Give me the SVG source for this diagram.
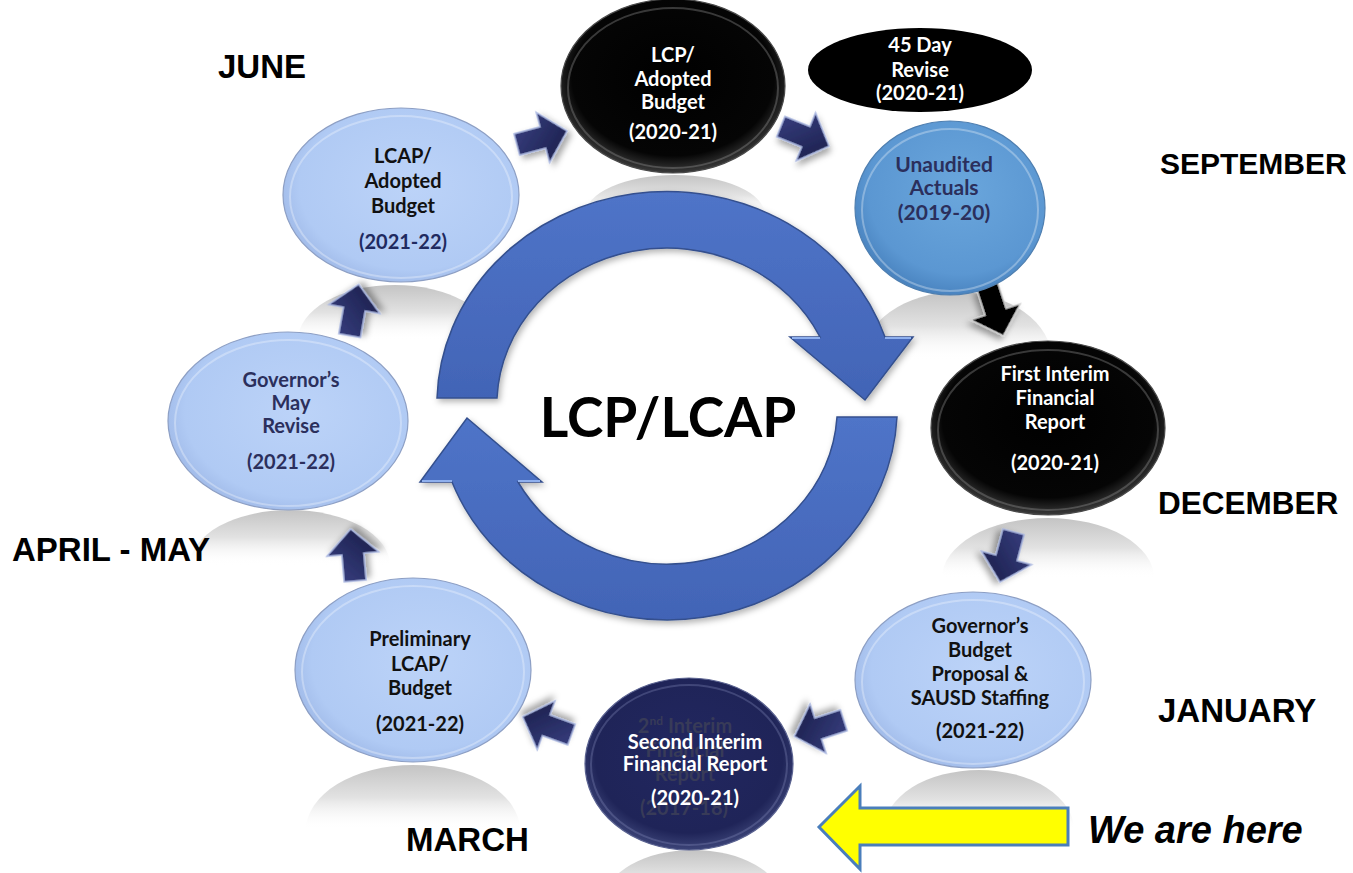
<svg xmlns="http://www.w3.org/2000/svg" width="1353" height="873" viewBox="0 0 1353 873">
  <defs>
    <style>
      .lbl { font-family: Lato, "Open Sans", "Liberation Sans", sans-serif; font-weight: 700; font-size: 20px; text-anchor: middle; }
      .dark { fill: #111111; }
      .navy { fill: #2b2f5c; }
      .white { fill: #ffffff; }
      .ghost { fill: #383b58; }
      .month { font-family: "Liberation Sans", Arial, sans-serif; font-weight: 700; font-size: 33px; fill: #000000; }
      .title { font-family: Lato, "Open Sans", "Liberation Sans", sans-serif; font-weight: 700; font-size: 55px; fill: #000000; text-anchor: middle; }
      .here { font-family: "Liberation Sans", Arial, sans-serif; font-weight: 700; font-style: italic; font-size: 38px; fill: #000000; }
      .light { fill: url(#lightFill); stroke: #8d9fc4; stroke-width: 1.2; }
      .black { fill: url(#blackFill); stroke: #4a4a4a; stroke-width: 1.2; }
      .rim { fill: none; stroke: #ffffff; stroke-opacity: 0.3; stroke-width: 2; }
      .rimDark { fill: none; stroke: #9a9a9a; stroke-opacity: 0.35; stroke-width: 2; }
      .refl { fill: url(#reflFill); }
      .step { fill: url(#stepFill); stroke: #a9b6e0; stroke-width: 1.4; filter: url(#shadow); }
      .stepBlack { fill: #000000; stroke: #d0d0d0; stroke-width: 1.4; filter: url(#shadow); }
      .ring { fill: url(#ringFill); stroke: #34508e; stroke-width: 1.5; filter: url(#softShadow); }
    </style>
    <radialGradient id="lightFill" cx="55%" cy="45%" r="60%">
      <stop offset="0" stop-color="#bcd3f8"/>
      <stop offset="0.8" stop-color="#b0caf4"/>
      <stop offset="1" stop-color="#9db7e6"/>
    </radialGradient>
    <radialGradient id="blueFill" cx="55%" cy="40%" r="60%">
      <stop offset="0" stop-color="#6aa6dc"/>
      <stop offset="0.8" stop-color="#5b97d2"/>
      <stop offset="1" stop-color="#4a84c0"/>
    </radialGradient>
    <radialGradient id="blackFill" cx="50%" cy="45%" r="55%">
      <stop offset="0" stop-color="#000000"/>
      <stop offset="0.82" stop-color="#050505"/>
      <stop offset="1" stop-color="#3a3a3a"/>
    </radialGradient>
    <radialGradient id="navyFill" cx="50%" cy="45%" r="55%">
      <stop offset="0" stop-color="#222760"/>
      <stop offset="0.82" stop-color="#1f2458"/>
      <stop offset="1" stop-color="#3c4478"/>
    </radialGradient>
    <linearGradient id="reflFill" x1="0" y1="0" x2="0" y2="1">
      <stop offset="0" stop-color="#c4c4c4"/>
      <stop offset="0.5" stop-color="#e2e2e2"/>
      <stop offset="1" stop-color="#ffffff" stop-opacity="0"/>
    </linearGradient>
    <linearGradient id="stepFill" x1="0" y1="0" x2="1" y2="1">
      <stop offset="0" stop-color="#3a4184"/>
      <stop offset="1" stop-color="#171b45"/>
    </linearGradient>
    <linearGradient id="ringFill" x1="0" y1="0" x2="0" y2="1">
      <stop offset="0" stop-color="#4f74c8"/>
      <stop offset="1" stop-color="#4264b6"/>
    </linearGradient>
    <filter id="shadow" x="-40%" y="-40%" width="180%" height="180%">
      <feDropShadow dx="3" dy="4" stdDeviation="3" flood-color="#000000" flood-opacity="0.35"/>
    </filter>
    <filter id="softShadow" x="-10%" y="-10%" width="120%" height="120%">
      <feDropShadow dx="2" dy="3" stdDeviation="3" flood-color="#000000" flood-opacity="0.3"/>
    </filter>
    <!-- block arrow pointing along +x, centred on the origin -->
    <path id="blockArrow" d="M -25,-11 L 2,-11 L 2,-26 L 27,0 L 2,26 L 2,11 L -25,11 Z"/>
  </defs>

  <rect width="1353" height="873" fill="#ffffff"/>

  <!-- floor reflections under the nodes -->
  <g id="reflections">
    <path class="refl" d="M 298,340 A 97 55 0 0 1 492,340 Z"/>
    <path class="refl" d="M 190,565 A 100 55 0 0 1 390,565 Z"/>
    <path class="refl" d="M 306,830 A 107 65 0 0 1 520,830 Z"/>
    <path class="refl" d="M 862,360 A 95 68 0 0 1 1052,360 Z"/>
    <path class="refl" d="M 942,578 A 106 60 0 0 1 1154,578 Z"/>
    <path class="refl" d="M 884,830 A 95 60 0 0 1 1074,830 Z"/>
    <path class="refl" d="M 605,900 A 88 50 0 0 1 781,900 Z"/>
    <path class="refl" d="M 585,215 A 90 40 0 0 1 765,215 Z"/>
  </g>

  <!-- central cycle arrows -->
  <g id="cycle">
    <path class="ring" d="M 437,398 A 230 213 0 0 1 885,337 L 913,337 L 865,400 L 790,337 L 820,337 A 170 157 0 0 0 497,398 Z"/>
    <path class="ring" d="M 897,417 A 230 213 0 0 1 452,482 L 420,482 L 467,418 L 542,482 L 518,482 A 170 157 0 0 0 837,417 Z"/>
    <path d="M 792,338 L 820,338 M 885,338 L 911,338" stroke="#8fb0ee" stroke-width="2" fill="none"/>
    <path d="M 422,481 L 452,481 M 518,481 L 540,481" stroke="#8fb0ee" stroke-width="2" fill="none"/>
    <text class="title" x="668" y="437">LCP/LCAP</text>
  </g>

  <!-- step connectors between the nodes -->
  <g id="connectors">
    <use href="#blockArrow" class="step" transform="translate(541,138) rotate(-15)"/>
    <use href="#blockArrow" class="step" transform="translate(804,136) rotate(22)"/>
    <use href="#blockArrow" class="stepBlack" transform="translate(995,310) rotate(72)"/>
    <use href="#blockArrow" class="step" transform="translate(1007,556) rotate(105)"/>
    <use href="#blockArrow" class="step" transform="translate(820,728) rotate(162)"/>
    <use href="#blockArrow" class="step" transform="translate(548,726) rotate(200)"/>
    <use href="#blockArrow" class="step" transform="translate(353,556) rotate(-95)"/>
    <use href="#blockArrow" class="step" transform="translate(354,311) rotate(-80)"/>
  </g>

  <!-- June: LCAP / Adopted Budget 2021-22 -->
  <g id="node-lcap-adopted">
    <ellipse class="light" cx="401" cy="195" rx="118" ry="87"/>
    <ellipse class="rim" cx="401" cy="197" rx="111" ry="81"/>
    <text class="lbl dark" x="403" y="163">LCAP/</text>
    <text class="lbl dark" x="403" y="188">Adopted</text>
    <text class="lbl dark" x="403" y="213">Budget</text>
    <text class="lbl" x="403" y="249" fill="#1f2a60">(2021-22)</text>
  </g>

  <!-- Governor's May Revise -->
  <g id="node-may-revise">
    <ellipse class="light" cx="288" cy="421" rx="120" ry="89"/>
    <ellipse class="rim" cx="288" cy="423" rx="113" ry="83"/>
    <text class="lbl navy" x="291" y="387">Governor’s</text>
    <text class="lbl navy" x="291" y="410">May</text>
    <text class="lbl navy" x="291" y="433">Revise</text>
    <text class="lbl navy" x="291" y="469">(2021-22)</text>
  </g>

  <!-- Preliminary LCAP / Budget -->
  <g id="node-preliminary">
    <ellipse class="light" cx="413" cy="670" rx="118" ry="92"/>
    <ellipse class="rim" cx="413" cy="672" rx="111" ry="86"/>
    <text class="lbl dark" x="420" y="646">Preliminary</text>
    <text class="lbl dark" x="420" y="671">LCAP/</text>
    <text class="lbl dark" x="420" y="695">Budget</text>
    <text class="lbl dark" x="420" y="731">(2021-22)</text>
  </g>

  <!-- Second Interim Financial Report, with the older label showing through -->
  <g id="node-second-interim">
    <ellipse cx="689" cy="764" rx="104" ry="86" fill="url(#navyFill)" stroke="#5a6290" stroke-width="1.2"/>
    <ellipse cx="689" cy="765" rx="98" ry="80" fill="none" stroke="#8d96c4" stroke-opacity="0.3" stroke-width="2"/>
    <text class="lbl ghost" x="685" y="733">2<tspan font-size="12" dy="-8">nd</tspan><tspan dy="8"> Interim</tspan></text>
    <text class="lbl ghost" x="685" y="757">Financial</text>
    <text class="lbl ghost" x="685" y="781">Report</text>
    <text class="lbl ghost" x="684" y="815">(2017-18)</text>
    <text class="lbl white" x="695" y="749">Second Interim</text>
    <text class="lbl white" x="695" y="771">Financial Report</text>
    <text class="lbl white" x="695" y="805">(2020-21)</text>
  </g>

  <!-- Governor's Budget Proposal & SAUSD Staffing -->
  <g id="node-gov-budget">
    <ellipse class="light" cx="973" cy="680" rx="118" ry="88"/>
    <ellipse class="rim" cx="973" cy="682" rx="111" ry="82"/>
    <text class="lbl dark" x="980" y="633">Governor’s</text>
    <text class="lbl dark" x="980" y="657">Budget</text>
    <text class="lbl dark" x="980" y="681">Proposal &amp;</text>
    <text class="lbl dark" x="980" y="705">SAUSD Staffing</text>
    <text class="lbl dark" x="980" y="738">(2021-22)</text>
  </g>

  <!-- First Interim Financial Report -->
  <g id="node-first-interim">
    <ellipse class="black" cx="1048" cy="428" rx="117" ry="87"/>
    <ellipse class="rimDark" cx="1048" cy="430" rx="110" ry="80"/>
    <text class="lbl white" x="1055" y="381">First Interim</text>
    <text class="lbl white" x="1055" y="405">Financial</text>
    <text class="lbl white" x="1055" y="429">Report</text>
    <text class="lbl white" x="1055" y="470">(2020-21)</text>
  </g>

  <!-- Unaudited Actuals -->
  <g id="node-unaudited">
    <ellipse cx="950" cy="208" rx="95" ry="87" fill="url(#blueFill)" stroke="#4f7fb0" stroke-width="1.2"/>
    <ellipse class="rim" cx="950" cy="210" rx="88" ry="81"/>
    <text class="lbl navy" x="944" y="172" style="font-size:21px">Unaudited</text>
    <text class="lbl navy" x="944" y="195" style="font-size:21px">Actuals</text>
    <text class="lbl navy" x="944" y="220" style="font-size:21px">(2019-20)</text>
  </g>

  <!-- 45 Day Revise -->
  <g id="node-45-day">
    <ellipse cx="920" cy="70" rx="112" ry="42" fill="#000000"/>
    <text class="lbl white" x="920" y="52">45 Day</text>
    <text class="lbl white" x="920" y="77">Revise</text>
    <text class="lbl white" x="920" y="100">(2020-21)</text>
  </g>

  <!-- LCP / Adopted Budget 2020-21 -->
  <g id="node-lcp-adopted">
    <ellipse class="black" cx="673" cy="86" rx="112" ry="87"/>
    <ellipse class="rimDark" cx="673" cy="88" rx="105" ry="80"/>
    <text class="lbl white" x="673" y="62">LCP/</text>
    <text class="lbl white" x="673" y="86">Adopted</text>
    <text class="lbl white" x="673" y="109">Budget</text>
    <text class="lbl white" x="673" y="139">(2020-21)</text>
  </g>

  <!-- month labels -->
  <g id="months">
    <text class="month" x="218" y="78">JUNE</text>
    <text class="month" x="1160" y="174" style="font-size:30px">SEPTEMBER</text>
    <text class="month" x="1158" y="514" style="font-size:31.5px">DECEMBER</text>
    <text class="month" x="1158" y="722">JANUARY</text>
    <text class="month" x="12" y="561">APRIL - MAY</text>
    <text class="month" x="406" y="851">MARCH</text>
  </g>

  <!-- current position marker -->
  <g id="marker">
    <path d="M 819,827 L 860,786 L 860,808 L 1068,808 L 1068,845 L 860,845 L 860,869 Z" fill="#ffff00" stroke="#4a7ebb" stroke-width="3" stroke-linejoin="miter"/>
    <text class="here" x="1088" y="843">We are here</text>
  </g>
</svg>
